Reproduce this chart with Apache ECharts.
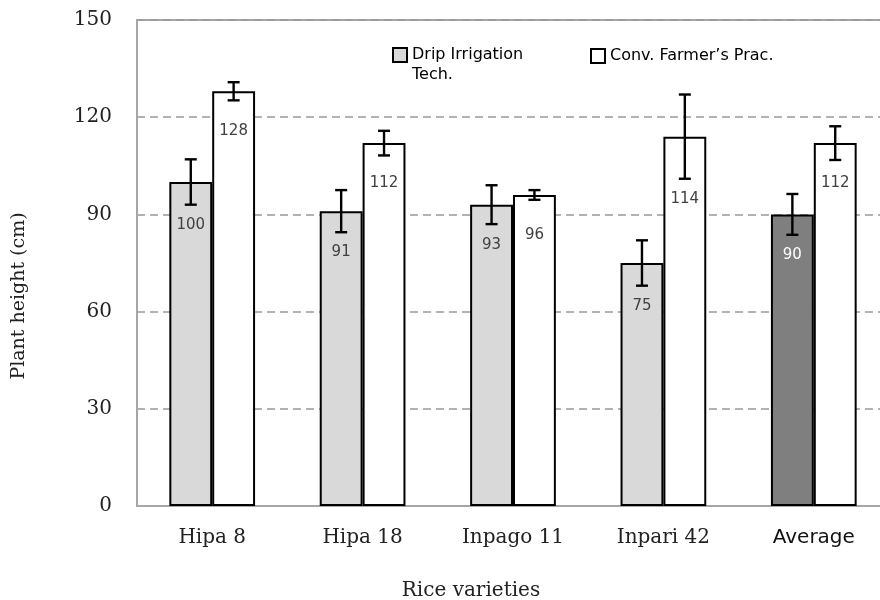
<!DOCTYPE html>
<html>
<head>
<meta charset="utf-8">
<script src="https://cdn.jsdelivr.net/npm/echarts@6/dist/echarts.min.js"></script>
<style>html,body{margin:0;padding:0;background:#fff}#chart{width:880px;height:600px}</style>
</head>
<body>
<div id="chart"></div>
<script>
const categories = ['Hipa 8', 'Hipa 18', 'Inpago 11', 'Inpari 42', 'Average'];
const dripValues = [100, 91, 93, 75, 90];
const convValues = [128, 112, 96, 114, 112];
const dripErrors = [7, 6.5, 6, 7, 6.3];
const convErrors = [2.8, 3.8, 1.5, 13, 5.2];
const yTicks = [0, 30, 60, 90, 120, 150];
const seriesNames = ['Drip Irrigation Tech.', 'Conv. Farmer\u2019s Prac.'];

const GAP = 0.43;
const chart = echarts.init(document.getElementById('chart'), null, {renderer: 'canvas'});

function errorSeries(values, errors, side, name) {
  return {
    type: 'custom',
    name: name + ' err',
    z: 5,
    silent: true,
    data: values.map((v, i) => [i, v, errors[i]]),
    renderItem: function (params, api) {
      const i = api.value(0), v = api.value(1), e = api.value(2);
      const bandW = api.size([1, 0])[0];
      const barW = bandW * (1 - GAP) / 2;
      const cx = api.coord([i, v])[0] + side * barW / 2;
      const yBar = api.coord([i, v])[1];
      const yTop = api.coord([i, v + e])[1];
      const yLow = api.coord([i, v - e])[1];
      const cap = 6;
      const st = {stroke: '#000', lineWidth: 2.4};
      const isAvgDrip = (side < 0 && i === categories.length - 1);
      return {
        type: 'group',
        children: [
          {type: 'line', shape: {x1: cx, y1: yTop, x2: cx, y2: yLow}, style: st},
          {type: 'line', shape: {x1: cx - cap, y1: yTop, x2: cx + cap, y2: yTop}, style: st},
          {type: 'line', shape: {x1: cx - cap, y1: yLow, x2: cx + cap, y2: yLow}, style: st},
          {type: 'text', x: cx, y: Math.max(yBar + 40, yLow + 20),
            style: {text: String(v), align: 'center', verticalAlign: 'middle',
              fontFamily: 'DejaVu Sans', fontSize: 15,
              fill: isAvgDrip ? '#ffffff' : '#404040'}}
        ]
      };
    }
  };
}

const option = {
  animation: false,
  backgroundColor: '#fff',
  grid: {left: 137, width: 752, top: 20, bottom: 94, show: true, borderColor: '#a6a6a6', borderWidth: 2,
    containLabel: false, outerBoundsMode: 'none'},
  legend: [
    {data: [seriesNames[0]], left: 392, top: 25, padding: 0, itemWidth: 14, itemHeight: 14,
      icon: 'rect', itemStyle: {borderColor: '#000', borderWidth: 2},
      formatter: () => ' \nDrip Irrigation\nTech.',
      textStyle: {fontFamily: 'DejaVu Sans', fontSize: 16, color: '#000', lineHeight: 20}},
    {data: [seriesNames[1]], left: 590, top: 48, padding: 0, itemWidth: 14, itemHeight: 14,
      icon: 'rect', itemStyle: {borderColor: '#000', borderWidth: 2},
      textStyle: {fontFamily: 'DejaVu Sans', fontSize: 16, color: '#000'}}
  ],
  xAxis: {
    type: 'category',
    data: categories,
    axisLine: {lineStyle: {color: '#a6a6a6', width: 2}},
    axisTick: {show: false},
    axisLabel: {
      margin: 22,
      formatter: (v) => v === 'Average' ? '{s|' + v + '}' : '{r|' + v + '}',
      rich: {
        r: {fontFamily: 'DejaVu Serif', fontSize: 20, color: '#222'},
        s: {fontFamily: 'DejaVu Sans', fontSize: 20, color: '#111'}
      }
    }
  },
  yAxis: {
    type: 'value',
    min: yTicks[0], max: yTicks[yTicks.length - 1], interval: yTicks[1] - yTicks[0],
    axisLine: {show: true, lineStyle: {color: '#a6a6a6', width: 2}},
    axisTick: {show: false},
    axisLabel: {margin: 25, fontFamily: 'DejaVu Serif', fontSize: 20, color: '#222'},
    splitLine: {lineStyle: {color: '#999', width: 1.6, type: [8, 5]}}
  },
  graphic: [
    {type: 'text', x: 19, y: 296, rotation: Math.PI / 2,
      style: {text: 'Plant height (cm)', align: 'center', verticalAlign: 'middle',
        fontFamily: 'DejaVu Serif', fontSize: 19, fill: '#222'}},
    {type: 'text', x: 471, y: 591,
      style: {text: 'Rice varieties', align: 'center', verticalAlign: 'middle',
        fontFamily: 'DejaVu Serif', fontSize: 20, fill: '#222'}}
  ],
  series: [
    {
      type: 'bar', name: seriesNames[0],
      barGap: '0%', barCategoryGap: (GAP * 100) + '%',
      itemStyle: {color: '#d9d9d9', borderColor: '#000', borderWidth: 2},
      data: dripValues.map((v, i) => i === categories.length - 1
        ? {value: v, itemStyle: {color: '#7f7f7f'}} : v)
    },
    {
      type: 'bar', name: seriesNames[1],
      barGap: '0%', barCategoryGap: (GAP * 100) + '%',
      itemStyle: {color: '#ffffff', borderColor: '#000', borderWidth: 2},
      data: convValues
    },
    errorSeries(dripValues, dripErrors, -1, seriesNames[0]),
    errorSeries(convValues, convErrors, 1, seriesNames[1])
  ]
};
chart.setOption(option);
</script>
</body>
</html>
